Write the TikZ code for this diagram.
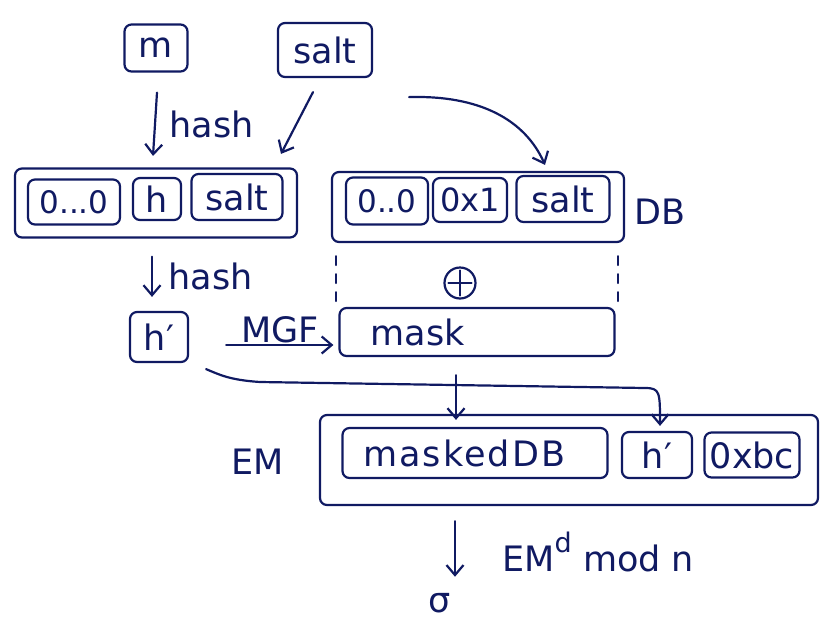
\documentclass[tikz,border=0pt]{standalone}
\usepackage{fontspec}
\setmainfont{DejaVu Sans}
\usetikzlibrary{arrows.meta,calc}
\definecolor{ink}{RGB}{16,26,98}
\begin{document}
\begin{tikzpicture}[x=1pt,y=-1pt, color=ink, line width=2.2pt, line cap=round, line join=round,
  txt/.style={font=\fontsize{35}{38}\selectfont},
  box/.style={draw, rounded corners=7pt, inner sep=0pt, txt},
  arr/.style={-{Straight Barb[length=10pt,width=17pt]}},
  guide/.style={dash pattern=on 9pt off 9pt}]
\useasboundingbox (0,0) rectangle (828,630);
% inputs
\node[box, minimum width=63, minimum height=47] (m) at (156,48) {m};
\node[box, minimum width=94, minimum height=54] (salt) at (325,50) {salt};
% M'
\node[box, minimum width=282, minimum height=69] (mp) at (156,203) {};
\node[box, minimum width=92, minimum height=45, font=\fontsize{31}{33}\selectfont] (z1) at (74,202) {0...0};
\node[box, minimum width=48, minimum height=42] (h) at (157,199) {h};
\node[box, minimum width=91, minimum height=46] (s2) at (237,197) {salt};
% DB
\node[box, minimum width=292, minimum height=70] (db) at (478,207) {};
\node[box, minimum width=82, minimum height=47, font=\fontsize{31}{33}\selectfont] (z2) at (387,201) {0..0};
\node[box, minimum width=74, minimum height=44, font=\fontsize{32}{34}\selectfont] (x1) at (470,200) {0x1};
\node[box, minimum width=93, minimum height=46] (s3) at (563,199) {salt};
\node[txt] (dbl) at (660,212) {DB};
% arrows top
\draw[arr] ($(m.south)+(1,20)$) -- node[txt, right=10pt] {hash} ($(h.north)+(-4,-21)$);
\draw[arr] ($(salt.south)+(-12,14)$) -- ($(s2.north)+(44,-19)$);
\draw[arr] ($(salt.south east)+(36,19)$) .. controls (480,95) and (525,120) .. ($(s3.north)+(-18,-10)$);
% dashed guides and xor
\draw[guide] ($(db.south west)+(5,13)$) -- ($(db.south west)+(5,58)$);
\draw[guide] ($(db.south east)+(-7,13)$) -- ($(db.south east)+(-7,58)$);
\node[circle, draw, minimum size=31, inner sep=0pt] (xor) at (460,283) {};
\draw ($(xor.north)+(0,4)$) -- ($(xor.south)+(0,-4)$) ($(xor.west)+(5,0)$) -- ($(xor.east)+(-5,0)$);
% h' and mask
\node[box, minimum width=58, minimum height=50] (hp) at (159,337) {h\char"2032};
\draw[arr] ($(mp.south -| hp)+(-7,18)$) -- node[txt, right=12pt] {hash} ($(hp.north)+(-7,-14)$);
\node[box, minimum width=275, minimum height=48, text width=245] (mask) at (477,332) {\hspace*{16pt}mask};
\draw[arr] ($(hp.east)+(37,8)$) -- node[txt, above=-2pt] {MGF} ($(mask.west)+(-5,13)$);
% EM
\node[box, minimum width=498, minimum height=90] (em) at (569,460) {};
\node[box, minimum width=265, minimum height=50, text width=240] (mdb) at (475,453) {\hspace*{8pt}\addfontfeature{LetterSpace=6}maskedDB};
\node[box, minimum width=70, minimum height=46] (hp2) at (657,455) {h\char"2032};
\node[box, minimum width=95, minimum height=45] (bc) at (752,455) {0xbc};
\node[txt] (eml) at (258,462) {EM};
% connections into EM
\draw[arr] ($(mask.south)+(-21,18)$) -- ($(mdb.north)+(-19,-7)$);
\draw[arr] ($(hp.south east)+(17,6)$) .. controls (220,375) and (230,380) .. (260,382)
  -- (645,388) .. controls (660,388) and (660,392) .. ($(hp2.north)+(3,-5)$);
% signature
\node[txt] (sig) at (440,603) {σ};
\draw[arr] ($(em.south -| sig)+(15,15)$) -- ($(sig.north)+(15,-12)$);
\node[txt, anchor=west] (rsa) at (498,552) {EM\raisebox{0.55em}{\fontsize{27}{29}\selectfont d} mod n};
\end{tikzpicture}
\end{document}
